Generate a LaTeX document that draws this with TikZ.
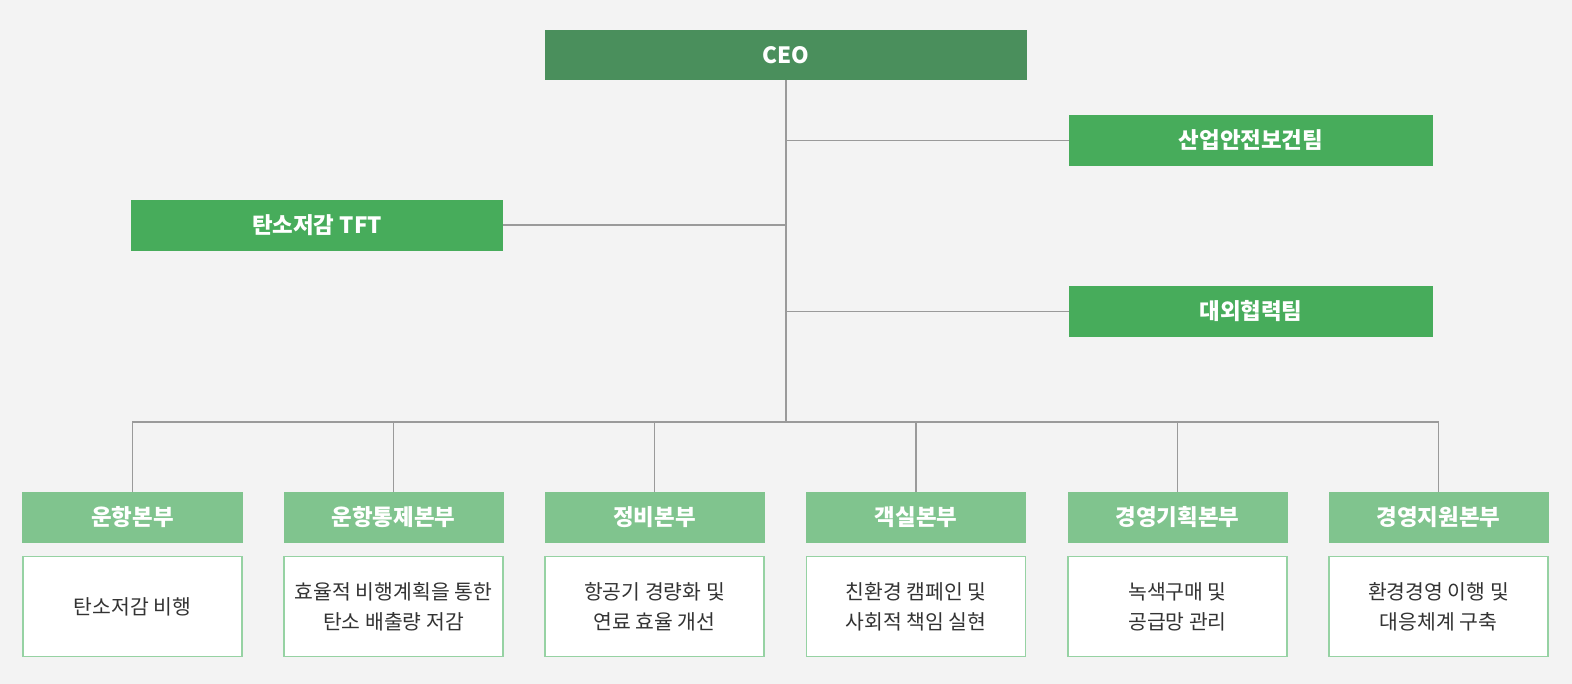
\documentclass[tikz,border=0pt]{standalone}
\usepackage{fontspec}
\setmainfont{Noto Sans CJK KR}
\definecolor{bgc}{HTML}{F3F3F3}
\definecolor{ceoc}{HTML}{4A8F5C}
\definecolor{teamc}{HTML}{47AC5B}
\definecolor{divc}{HTML}{80C48E}
\definecolor{descb}{HTML}{96D2A3}
\definecolor{linec}{HTML}{9A9A9A}
\definecolor{txtc}{HTML}{333333}
\begin{document}
\begin{tikzpicture}[x=1bp,y=-1bp,
  boxbase/.style={inner sep=0pt, outer sep=0pt},
  ceobox/.style={boxbase, fill=ceoc, text=white, minimum width=482bp, minimum height=50bp, font=\bfseries\fontsize{22.5}{26}\selectfont},
  teambox/.style={boxbase, fill=teamc, text=white, minimum height=51bp, font=\bfseries\fontsize{22.5}{26}\selectfont},
  divbox/.style={boxbase, fill=divc, text=white, minimum width=220bp, minimum height=51bp, font=\bfseries\fontsize{22.5}{26}\selectfont},
  descbox/.style={boxbase, fill=white, draw=descb, line width=1.2bp, text=txtc, minimum width=219bp, minimum height=100bp, align=center, font=\fontsize{20.5}{30}\selectfont},
  conn/.style={draw=linec, line width=1.3bp}
]
\fill[bgc] (0,0) rectangle (1572,684);
\useasboundingbox (0,0) rectangle (1572,684);

\node[ceobox] (ceo) at (786,55) {CEO};
\node[teambox, minimum width=364bp] (safety) at (1251,140.5) {산업안전보건팀};
\node[teambox, minimum width=372bp] (tft) at (317,225) {탄소저감 TFT};
\node[teambox, minimum width=364bp] (ext) at (1251,311.5) {대외협력팀};

\coordinate (bus) at (786,422);

\foreach \i/\x/\t/\d in {
  1/132.5/운항본부/{탄소저감 비행},
  2/393.5/운항통제본부/{효율적 비행계획을 통한\\탄소 배출량 저감},
  3/654.5/정비본부/{항공기 경량화 및\\연료 효율 개선},
  4/916/객실본부/{친환경 캠페인 및\\사회적 책임 실현},
  5/1177.5/경영기획본부/{녹색구매 및\\공급망 관리},
  6/1438.5/경영지원본부/{환경경영 이행 및\\대응체계 구축}} {
  \node[divbox] (h\i) at (\x,517.5) {\t};
  \node[descbox] (d\i) at (\x,606.5) {\d};
}

\draw[conn] (ceo.south) -- (bus);
\draw[conn] (ceo.south |- safety.west) -- (safety.west);
\draw[conn] (ceo.south |- ext.west) -- (ext.west);
\draw[conn] (tft.east) -- (tft.east -| ceo.south);
\draw[conn] (h1.north) -- (h1.north |- bus) -- (h6.north |- bus) -- (h6.north);
\foreach \i in {2,3,4,5} {
  \draw[conn] (h\i.north) -- (h\i.north |- bus);
}
\end{tikzpicture}
\end{document}
